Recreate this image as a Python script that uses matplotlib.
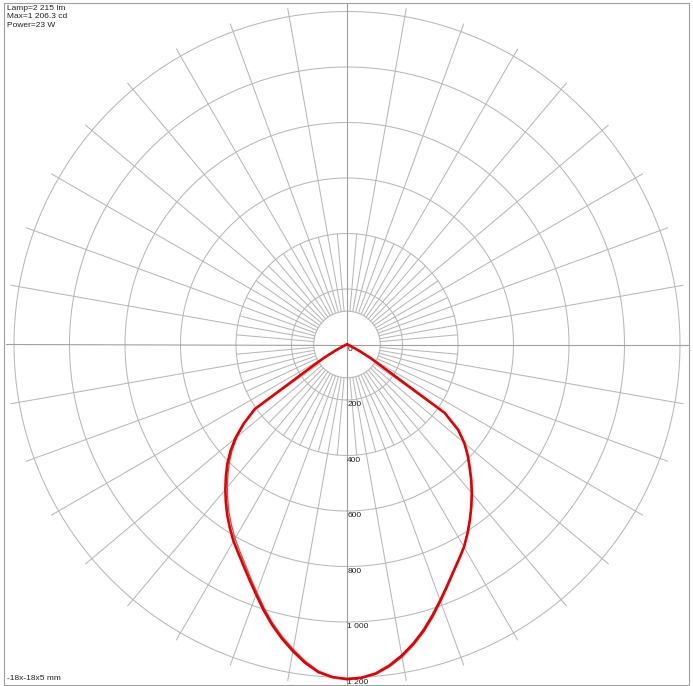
import numpy as np
import matplotlib.pyplot as plt
from matplotlib.patches import Rectangle

# Luminous intensity (cd) against gamma angle (deg), 0 = straight down
gamma = [0, 2.5, 5, 7.5, 10, 12.5, 15, 17.5, 20, 22.5, 25, 27.5, 30, 32.5, 35, 37.5,
         40, 42.5, 45, 47.5, 50, 52.5, 55, 57.5, 60, 62.5, 65, 67.5, 70, 75, 80, 85, 90]
c0_right = [1206, 1202, 1190, 1167, 1138, 1104, 1066, 1024, 982, 942, 905, 873, 843, 808, 772, 736,
            700, 663, 625, 590, 552, 505, 430, 160, 100, 50, 22, 12, 6, 1, 0, 0, 0]
c180_left = [1206, 1200, 1185, 1157, 1122, 1085, 1045, 1002, 958, 918, 881, 848, 818, 785, 752, 717,
             682, 646, 610, 570, 525, 470, 405, 160, 95, 45, 20, 10, 5, 0, 0, 0, 0]
c90_right = [1206, 1203, 1193, 1172, 1144, 1110, 1072, 1030, 987, 946, 908, 875, 844, 808, 771, 735,
             698, 661, 623, 588, 550, 503, 428, 160, 100, 50, 22, 12, 6, 1, 0, 0, 0]
c270_left = [1206, 1198, 1181, 1151, 1115, 1078, 1038, 994, 950, 909, 871, 838, 807, 774, 741, 706,
             671, 635, 599, 560, 516, 466, 410, 165, 98, 46, 20, 10, 5, 0, 0, 0, 0]

ring_values = [200, 400, 600, 800, 1000, 1200]
ring_labels = ["200", "400", "600", "800", "1 000", "1 200"]
info_lines = ["Lamp=2 215 lm", "Max=1 206.3 cd", "Power=23 W"]
size_note = "-18x-18x5 mm"

W, H = 693, 686
cx, cy = 347, 344.5          # diagram centre in pixels (from top left)
px_per_cd = 333 / 1200
rmax = 1240
r_px = rmax * px_per_cd

plt.rcParams['font.family'] = ['Liberation Sans', 'DejaVu Sans']

fig = plt.figure(figsize=(W / 100, H / 100), dpi=100)
ax = fig.add_axes([(cx - r_px) / W, (H - cy - r_px) / H, 2 * r_px / W, 2 * r_px / H],
                  projection='polar')
ax.set_theta_zero_location('S')
ax.set_theta_direction(1)
ax.set_ylim(0, rmax)
ax.set_axis_off()

grid_col = '#b8b8b8'
axis_col = '#a0a0a0'
inner_r = 120
spoke_end = 1229

# rings
t = np.linspace(0, 2 * np.pi, 721)
for v in [inner_r] + ring_values:
    ax.plot(t, np.full_like(t, v), color=grid_col, lw=0.75)

# spokes: every 10 deg out to the edge, in-between 5 deg ones shorter
for a in range(0, 360, 10):
    if a % 90 == 0:
        continue
    ax.plot([np.deg2rad(a)] * 2, [inner_r, spoke_end], color=grid_col, lw=0.75)
for a in range(5, 360, 10):
    ax.plot([np.deg2rad(a)] * 2, [inner_r, 400], color=grid_col, lw=0.75)

# main axes through the centre
for a in [0, 90, 180, 270]:
    ax.plot([np.deg2rad(a)] * 2, [0, spoke_end], color=axis_col, lw=0.8)

# curves: left half uses negative angles
g = np.deg2rad(gamma)
theta = np.concatenate([-g[::-1], g[1:]])
r_c0 = np.concatenate([np.array(c180_left)[::-1], np.array(c0_right)[1:]])
r_c90 = np.concatenate([np.array(c270_left)[::-1], np.array(c90_right)[1:]])

ax.plot(theta, r_c90, color='#d04a4a', lw=0.9, zorder=3)
ax.plot(theta, r_c0, color='#e30000', lw=1.9, zorder=4)

# intensity labels along the vertical axis
ax.annotate("0", xy=(0, 0), xytext=(0.5, -0.8), textcoords='offset points',
            ha='left', va='top', fontsize=6, color='#222222')
for v, lab in zip(ring_values, ring_labels):
    ax.annotate(lab, xy=(0, v), xytext=(0.2, -0.8), textcoords='offset points',
                ha='left', va='top', fontsize=6, color='#222222', annotation_clip=False)

# header and footer text
for i, line in enumerate(info_lines):
    fig.text(7 / W, 1 - (8.5 + 8.5 * i) / H, line, ha='left', va='center',
             fontsize=6, color='#222222')
fig.text(7 / W, 1 - 679 / H, size_note, ha='left', va='center', fontsize=6, color='#222222')

# outer frame
fig.add_artist(Rectangle((4 / W, 1 - 685 / H), 685 / W, 682 / H, transform=fig.transFigure,
                         fill=False, ec='#a0a0a0', lw=0.8))

fig.savefig('out.png', dpi=100)
